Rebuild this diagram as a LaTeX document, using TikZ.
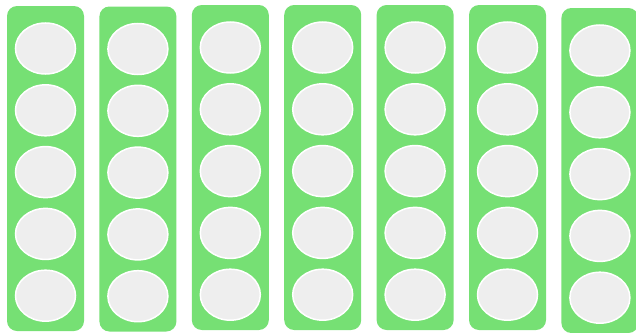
\documentclass[tikz,border=0pt]{standalone}
\usetikzlibrary{shapes.geometric}
\definecolor{traygreen}{RGB}{118,224,116}
\definecolor{cupgray}{RGB}{238,238,238}

\begin{document}
\begin{tikzpicture}[x=1pt,y=-1pt,
  tray/.style={fill=traygreen,rounded corners=10pt,minimum width=77pt,minimum height=325pt,inner sep=0pt},
  cup/.style={ellipse,draw=white,line width=1.5pt,fill=cupgray,minimum width=60pt,minimum height=51pt,inner sep=0pt}]
  \useasboundingbox (0,0) rectangle (636,332);
  % seven trays, five cups each
  \foreach \i/\ty in {1/6,2/6.5,3/5,4/5,5/5,6/5,7/8}{
    \node[tray] (tray\i) at ({45.5+92.4*(\i-1)},{\ty+162.5}) {};
    \foreach \j in {1,...,5}
      \node[cup] (cup\i-\j) at ({45.5+92.4*(\i-1)},{\ty+42.5+61.8*(\j-1)}) {};
  }
\end{tikzpicture}
\end{document}
